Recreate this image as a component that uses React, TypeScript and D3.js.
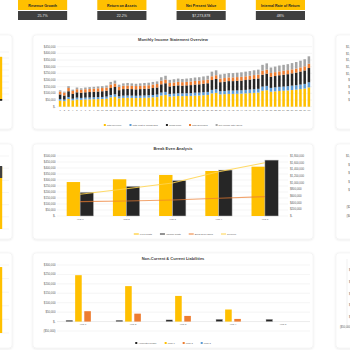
import { useRef, useEffect } from "react";
import * as d3 from "d3";

// KPI strip
const kpiLabels = ["Revenue Growth", "Return on Assets", "Net Present Value", "Internal Rate of Return"];
const kpiValues = ["25.7%", "22.2%", "$7,273,878", "48%"];

// Monthly income statement (thousands of $)
const incomeSeries = ["Total Revenue", "Total Cost of Goods Sold", "Gross Profit", "Total Expenses", "Net Income after Taxes"];
const totalRevenue = [
  46, 42, 58, 48, 54, 52, 54, 55, 56, 57, 58, 60,
  70, 74, 62, 66, 67, 66, 65, 66, 67, 68, 70, 72,
  84, 88, 76, 78, 80, 79, 80, 81, 83, 84, 86, 88,
  100, 104, 92, 94, 96, 96, 97, 98, 100, 102, 104, 106,
  120, 124, 112, 115, 118, 120, 122, 125, 128, 132, 136, 145,
];
const totalCogs = [
  12, 11, 15, 12, 14, 14, 14, 14, 15, 15, 15, 16,
  18, 19, 16, 17, 17, 17, 17, 17, 17, 18, 18, 19,
  22, 23, 20, 20, 21, 21, 21, 21, 22, 22, 22, 23,
  26, 27, 24, 24, 25, 25, 25, 25, 26, 27, 27, 28,
  31, 32, 29, 30, 31, 31, 32, 33, 33, 34, 35, 38,
];
const grossProfit = [
  34, 31, 43, 36, 40, 38, 40, 41, 41, 42, 43, 44,
  52, 55, 46, 49, 50, 49, 48, 49, 50, 50, 52, 53,
  62, 65, 56, 58, 59, 58, 59, 60, 61, 62, 64, 65,
  74, 77, 68, 70, 71, 71, 72, 73, 74, 75, 77, 78,
  89, 92, 83, 85, 87, 89, 90, 92, 95, 98, 101, 107,
];
const totalExpenses = [
  22, 22, 24, 22, 23, 23, 23, 23, 23, 24, 24, 24,
  26, 26, 24, 25, 25, 25, 25, 25, 25, 25, 26, 26,
  27, 27, 26, 26, 26, 26, 26, 27, 27, 27, 27, 27,
  28, 28, 27, 27, 28, 28, 28, 28, 28, 28, 29, 29,
  30, 30, 29, 29, 29, 30, 30, 30, 30, 31, 31, 32,
];
const netIncome = [
  9, 7, 14, 10, 13, 11, 13, 14, 14, 14, 14, 15,
  20, 22, 17, 18, 19, 18, 17, 18, 19, 19, 20, 20,
  26, 29, 23, 24, 25, 24, 25, 25, 26, 26, 28, 29,
  35, 37, 31, 32, 32, 32, 33, 34, 35, 35, 36, 37,
  44, 47, 41, 42, 44, 44, 45, 47, 49, 50, 53, 56,
];

// Break even analysis
const years = ["Year 1", "Year 2", "Year 3", "Year 4", "Year 5"];
const fixedCosts = [283000, 306000, 342000, 375000, 411000];
const variableCosts = [197000, 247000, 295000, 383000, 466000];
const breakEvenSales = [430000, 450000, 480000, 531000, 580000];
const revenueYearly = [651000, 819000, 990000, 1329000, 1599000];

// Liabilities
const liabSeries = ["Accounts Payable", "Loan 1", "Loan 2", "Loan 3"];
const accountsPayable = [7000, 7000, 9000, 12000, 12000];
const loan1 = [246000, 188000, 136000, 64000, 0];
const loan2 = [55000, 42000, 30000, 14000, 0];
const loan3 = [0, 0, 0, 0, 0];

// partial panels at the page edges
const rightTopTicks = ["$1,800,000", "$1,600,000", "$1,400,000", "$1,200,000", "$1,000,000", "$800,000", "$600,000", "$400,000", "$200,000"];
const rightMidTicks = ["$1,000,000", "$800,000", "$600,000", "$400,000", "$200,000", "$-", "($200,000)", "($400,000)"];
const rightBotTicks = ["$50,000", "$40,000", "$30,000", "$20,000", "$10,000"];

const YELLOW = "#FFC000";
const BLUE = "#5B9BD5";
const DARK = "#262626";
const ORANGE = "#ED7D31";
const GRAY = "#A5A5A5";
const FONT = "'Liberation Sans', Arial, sans-serif";

const money = (v: number) =>
  v === 0 ? "$-" : v < 0 ? `($${d3.format(",")(-v)})` : `$${d3.format(",")(v)}`;

export default function App() {
  const svgRef = useRef<SVGSVGElement>(null);

  useEffect(() => {
    if (!svgRef.current) return;
    const svg = d3.select(svgRef.current);
    svg.selectAll("*").remove();
    svg.attr("font-family", FONT);

    const defs = svg.append("defs");
    const f = defs.append("filter").attr("id", "sh").attr("x", "-10%").attr("y", "-10%").attr("width", "120%").attr("height", "120%");
    f.append("feDropShadow").attr("dx", 0).attr("dy", 0.5).attr("stdDeviation", 0.8).attr("flood-color", "#000").attr("flood-opacity", 0.12);

    // KPI boxes
    const kx = d3.scaleBand().domain(kpiLabels).range([18, 305]).paddingInner(0.38);
    kpiLabels.forEach((k, i) => {
      const x0 = kx(k)!;
      const w = kx.bandwidth();
      svg.append("rect").attr("x", x0).attr("y", 0).attr("width", w).attr("height", 10).attr("fill", YELLOW);
      svg.append("rect").attr("x", x0).attr("y", 11).attr("width", w).attr("height", 9).attr("fill", "#3F3F3F");
      svg.append("text").attr("x", x0 + w / 2).attr("y", 6.6).attr("text-anchor", "middle")
        .attr("font-size", 3.6).attr("font-weight", 700).attr("fill", "#262626").text(k);
      svg.append("text").attr("x", x0 + w / 2).attr("y", 17).attr("text-anchor", "middle")
        .attr("font-size", 3.6).attr("fill", "#e8e8e8").text(kpiValues[i]);
    });

    // Panels
    const rows: [number, number][] = [[35, 129], [144, 239], [253, 348]];
    rows.forEach(([y0, y1]) => {
      [[-10, 22], [33, 280], [336, 30]].forEach(([x0, w]) => {
        svg.append("rect").attr("x", x0).attr("y", y0).attr("width", w).attr("height", y1 - y0)
          .attr("rx", 3).attr("fill", "#fff").attr("stroke", "#ececec").attr("stroke-width", 0.5)
          .attr("filter", "url(#sh)");
      });
    });

    const legend = (y: number, cx: number, items: { label: string; color: string; line?: boolean }[]) => {
      const g = svg.append("g");
      let x = 0;
      items.forEach((it) => {
        if (it.line) {
          g.append("line").attr("x1", x).attr("x2", x + 5).attr("y1", y).attr("y2", y)
            .attr("stroke", it.color).attr("stroke-width", 1);
          x += 6;
        } else {
          g.append("rect").attr("x", x).attr("y", y - 1).attr("width", 2).attr("height", 2).attr("fill", it.color);
          x += 3;
        }
        const t = g.append("text").attr("x", x).attr("y", y + 0.8).attr("font-size", 2.3).attr("fill", "#595959").text(it.label);
        x += (t.node() as SVGTextElement).getComputedTextLength() + 8;
      });
      g.attr("transform", `translate(${cx - (x - 8) / 2},0)`);
    };

    const title = (y: number, s: string) =>
      svg.append("text").attr("x", 173).attr("y", y).attr("text-anchor", "middle")
        .attr("font-size", 4).attr("font-weight", 700).attr("fill", "#404040").text(s);

    // ---------- Monthly Income Statement Overview ----------
    {
      const months = totalRevenue.map((_, i) => String(i + 1));
      const rowsData = months.map((m, i) => ({
        m,
        "Total Revenue": totalRevenue[i],
        "Total Cost of Goods Sold": totalCogs[i],
        "Gross Profit": grossProfit[i],
        "Total Expenses": totalExpenses[i],
        "Net Income after Taxes": netIncome[i],
      }));
      const colors = [YELLOW, BLUE, DARK, ORANGE, GRAY];
      const x = d3.scaleBand().domain(months).range([58, 311]).paddingInner(0.4).paddingOuter(0.2);
      const y = d3.scaleLinear().domain([0, 450]).range([106.7, 46.7]);
      const g = svg.append("g");
      g.selectAll("line.grid").data(y.ticks(9)).join("line")
        .attr("x1", 57).attr("x2", 312).attr("y1", (d) => y(d)).attr("y2", (d) => y(d))
        .attr("stroke", "#e6e6e6").attr("stroke-width", 0.4);
      g.selectAll("text.yl").data(y.ticks(9)).join("text")
        .attr("x", 55.5).attr("y", (d) => y(d) + 1).attr("text-anchor", "end")
        .attr("font-size", 2.8).attr("fill", "#595959").text((d) => money(d * 1000));
      const stack = d3.stack<any>().keys(incomeSeries)(rowsData);
      stack.forEach((s, si) => {
        g.append("g").selectAll("rect").data(s).join("rect")
          .attr("x", (d) => x(d.data.m)!).attr("width", x.bandwidth())
          .attr("y", (d) => y(d[1])).attr("height", (d) => y(d[0]) - y(d[1]))
          .attr("fill", colors[si]);
      });
      g.selectAll("text.xl").data(months).join("text")
        .attr("x", (d) => x(d)! + x.bandwidth() / 2).attr("y", 111.3).attr("text-anchor", "middle")
        .attr("font-size", 2.3).attr("fill", "#595959").text((d) => d);
      title(41, "Monthly Income Statement Overview");
      legend(125, 173, incomeSeries.map((s, i) => ({ label: s, color: colors[i] })));
    }

    // ---------- Break Even Analysis ----------
    {
      const x = d3.scaleBand().domain(years).range([57, 288]).paddingInner(0.42).paddingOuter(0.21);
      const xs = d3.scaleBand().domain(["f", "v"]).range([0, x.bandwidth()]);
      const yL = d3.scaleLinear().domain([0, 500000]).range([216, 156]);
      const yR = d3.scaleLinear().domain([0, 1800000]).range([216, 156]);
      const g = svg.append("g");
      g.selectAll("line.grid").data(yL.ticks(10)).join("line")
        .attr("x1", 57).attr("x2", 288).attr("y1", (d) => yL(d)).attr("y2", (d) => yL(d))
        .attr("stroke", "#e6e6e6").attr("stroke-width", 0.4);
      g.selectAll("text.yl").data(yL.ticks(10)).join("text")
        .attr("x", 55.5).attr("y", (d) => yL(d) + 1).attr("text-anchor", "end")
        .attr("font-size", 2.8).attr("fill", "#595959").text((d) => money(d));
      g.selectAll("text.yr").data(yR.ticks(9)).join("text")
        .attr("x", 290).attr("y", (d) => yR(d) + 1).attr("text-anchor", "start")
        .attr("font-size", 2.8).attr("fill", "#595959").text((d) => money(d));
      g.selectAll("rect.f").data(years).join("rect")
        .attr("x", (d) => x(d)! + xs("f")!).attr("width", xs.bandwidth())
        .attr("y", (_, i) => yL(fixedCosts[i])).attr("height", (_, i) => yL(0) - yL(fixedCosts[i]))
        .attr("fill", YELLOW);
      g.selectAll("rect.v").data(years).join("rect")
        .attr("x", (d) => x(d)! + xs("v")!).attr("width", xs.bandwidth())
        .attr("y", (_, i) => yL(variableCosts[i])).attr("height", (_, i) => yL(0) - yL(variableCosts[i]))
        .attr("fill", DARK).attr("stroke", "#bfbfbf").attr("stroke-width", 0.5);
      const line = d3.line<number>().x((_, i) => x(years[i])! + x.bandwidth() / 2).y((d) => yR(d));
      g.append("path").datum(breakEvenSales).attr("d", line).attr("fill", "none")
        .attr("stroke", ORANGE).attr("stroke-opacity", 0.7).attr("stroke-width", 1.1);
      g.append("path").datum(revenueYearly).attr("d", line).attr("fill", "none")
        .attr("stroke", "#FFD34D").attr("stroke-opacity", 0.85).attr("stroke-width", 1.1);
      g.selectAll("text.xl").data(years).join("text")
        .attr("x", (d) => x(d)! + x.bandwidth() / 2).attr("y", 220).attr("text-anchor", "middle")
        .attr("font-size", 2.4).attr("fill", "#595959").text((d) => d);
      title(150, "Break Even Analysis");
      legend(234, 185, [
        { label: "Fixed Costs", color: YELLOW, line: true },
        { label: "Variable Costs", color: DARK, line: true },
        { label: "Break Even Sales", color: ORANGE, line: true },
        { label: "Revenue", color: "#FFD34D", line: true },
      ]);
    }

    // ---------- Non-Current & Current Liabilities ----------
    {
      const x = d3.scaleBand().domain(years).range([58, 308]).paddingInner(0.32).paddingOuter(0.16);
      const xs = d3.scaleBand().domain(liabSeries).range([0, x.bandwidth()]).paddingInner(0.28);
      const y = d3.scaleLinear().domain([-50000, 300000]).range([331, 265]);
      const vals = [accountsPayable, loan1, loan2, loan3];
      const colors = [DARK, YELLOW, ORANGE, BLUE];
      const g = svg.append("g");
      g.selectAll("line.grid").data(y.ticks(7)).join("line")
        .attr("x1", 57).attr("x2", 310).attr("y1", (d) => y(d)).attr("y2", (d) => y(d))
        .attr("stroke", (d) => (d === 0 ? "#d0d0d0" : "#e6e6e6")).attr("stroke-width", 0.4);
      g.selectAll("text.yl").data(y.ticks(7)).join("text")
        .attr("x", 55.5).attr("y", (d) => y(d) + 1).attr("text-anchor", "end")
        .attr("font-size", 2.8).attr("fill", "#595959").text((d) => money(d));
      liabSeries.forEach((s, si) => {
        g.append("g").selectAll("rect").data(years).join("rect")
          .attr("x", (d) => x(d)! + xs(s)!).attr("width", xs.bandwidth())
          .attr("y", (_, i) => y(vals[si][i])).attr("height", (_, i) => y(0) - y(vals[si][i]))
          .attr("fill", colors[si])
          .attr("stroke", si === 0 ? "#bfbfbf" : "none").attr("stroke-width", 0.4);
      });
      g.selectAll("text.xl").data(years).join("text")
        .attr("x", (d) => x(d)! + x.bandwidth() / 2).attr("y", 324.8).attr("text-anchor", "middle")
        .attr("font-size", 2.4).attr("fill", "#595959").text((d) => d);
      title(259.5, "Non-Current & Current Liabilities");
      legend(343, 173, liabSeries.map((s, i) => ({ label: s, color: colors[i] })));
    }

    // ---------- partial panels on the left ----------
    {
      const parts = [
        { top: 52, bottom: 100, grid: 9, bar: 0.9 },
        { top: 156, bottom: 229, grid: 7, bar: 0.85 },
        { top: 265, bottom: 333, grid: 6, bar: 0.97 },
      ];
      parts.forEach((p) => {
        const y = d3.scaleLinear().domain([0, 1]).range([p.bottom, p.top]);
        svg.append("g").selectAll("line").data(d3.range(p.grid).map((i) => i / (p.grid - 1))).join("line")
          .attr("x1", 0).attr("x2", 9).attr("y1", (d) => y(d)).attr("y2", (d) => y(d))
          .attr("stroke", "#e6e6e6").attr("stroke-width", 0.4);
        svg.append("rect").attr("x", 0).attr("width", 2.2).attr("y", y(p.bar)).attr("height", y(0) - y(p.bar)).attr("fill", YELLOW);
      });
      svg.append("rect").attr("x", 0).attr("width", 2.2).attr("y", 99).attr("height", 1.8).attr("fill", DARK);
      svg.append("rect").attr("x", 0).attr("width", 2.2).attr("y", 166).attr("height", 12).attr("fill", "#404040");
    }

    // ---------- partial panels on the right ----------
    {
      const yA = d3.scalePoint().domain(rightTopTicks).range([47, 100]);
      svg.append("g").selectAll("text").data(rightTopTicks).join("text")
        .attr("x", 360).attr("y", (d) => yA(d)! + 1).attr("text-anchor", "end")
        .attr("font-size", 2.8).attr("fill", "#595959").text((d) => d);
      const yB = d3.scalePoint().domain(rightMidTicks).range([156, 216]);
      svg.append("g").selectAll("text").data(rightMidTicks).join("text")
        .attr("x", 360).attr("y", (d) => yB(d)! + 1).attr("text-anchor", "end")
        .attr("font-size", 2.8).attr("fill", "#595959").text((d) => d);
      const yC = d3.scalePoint().domain(rightBotTicks).range([270, 317]);
      svg.append("line").attr("x1", 347).attr("x2", 347).attr("y1", 259).attr("y2", 325)
        .attr("stroke", "#d9d9d9").attr("stroke-width", 0.4);
      svg.append("g").selectAll("text").data(rightBotTicks).join("text")
        .attr("x", 349).attr("y", (d) => yC(d)! + 1).attr("font-size", 2.8).attr("fill", "#595959").text((d) => d);
      svg.append("text").attr("x", 340).attr("y", 328).attr("font-size", 2.6).attr("fill", "#595959").text("($50,000)");
    }
  }, []);

  return (
    <div style={{ position: "fixed", left: 0, top: 0, width: 350, height: 350, background: "#fff" }}>
      <svg ref={svgRef} width={350} height={350} style={{ display: "block" }} />
    </div>
  );
}
